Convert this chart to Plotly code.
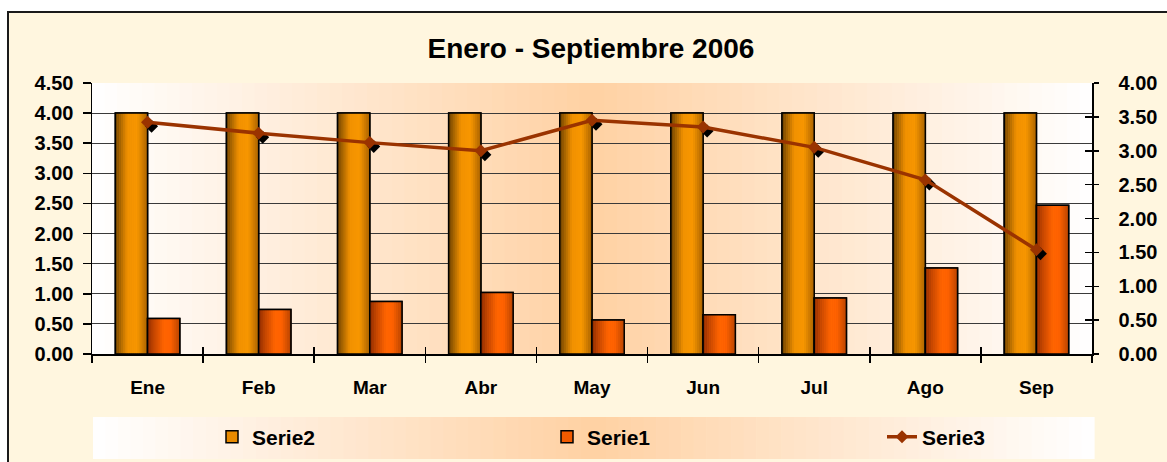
import plotly.graph_objects as go

# ---------------- data ----------------
months = ["Ene", "Feb", "Mar", "Abr", "May", "Jun", "Jul", "Ago", "Sep"]
serie2 = [4.00, 4.00, 4.00, 4.00, 4.00, 4.00, 4.00, 4.00, 4.00]
serie1 = [0.59, 0.74, 0.87, 1.02, 0.565, 0.65, 0.93, 1.43, 2.47]
serie3 = [3.42, 3.26, 3.12, 3.00, 3.45, 3.35, 3.05, 2.57, 1.54]
left_ticks = [0.0, 0.5, 1.0, 1.5, 2.0, 2.5, 3.0, 3.5, 4.0, 4.5]
right_ticks = [0.0, 0.5, 1.0, 1.5, 2.0, 2.5, 3.0, 3.5, 4.0]
title_text = "Enero - Septiembre 2006"

# ---------------- geometry / style ----------------
FONT = "Arial, Liberation Sans, Helvetica, sans-serif"
WIDTH, HEIGHT = 1167, 462
ML, MT = 92, 83
PW, PH = 1004, 275           # plotting region incl. shadow shift
SHX, SHY = 4, 4              # shadow shift in px
MR = WIDTH - ML - PW
MB = HEIGHT - MT - PH
XD = (PW - SHX) / PW
YD0 = SHY / PH


def px(x):
    return (x - ML) / PW


def py(y):
    return (MT + PH - y) / PH


def hex2rgb(h):
    h = h.lstrip("#")
    return tuple(int(h[i:i + 2], 16) for i in (0, 2, 4))


def interp(stops, t):
    for (t0, c0), (t1, c1) in zip(stops[:-1], stops[1:]):
        if t0 <= t <= t1:
            f = 0 if t1 == t0 else (t - t0) / (t1 - t0)
            a, b = hex2rgb(c0), hex2rgb(c1)
            return "rgb(%d,%d,%d)" % tuple(round(a[i] + (b[i] - a[i]) * f) for i in range(3))
    return stops[-1][1]


BAR_W = 0.29
S2_STOPS = [(0, "#6E4200"), (0.12, "#9A5C00"), (0.38, "#F29200"), (0.68, "#F79600"), (1.0, "#A86200")]
S1_STOPS = [(0, "#8E2C00"), (0.18, "#C04400"), (0.5, "#FF6400"), (0.7, "#FF6200"), (1.0, "#B84400")]
BG_STOPS = [(0, "#FFFFFF"), (0.5, "#FFD1A3"), (1.0, "#FFFFFF")]
N_STRIPS = 16

fig = go.Figure()


def gradient_bars(name, values, start, stops, legend_color, legend_id):
    fig.add_trace(go.Bar(
        name=name, x=months, y=values, offset=start, width=BAR_W,
        marker=dict(color=legend_color, line=dict(color="black", width=1.5)),
        xaxis="x", yaxis="y", hoverinfo="skip", showlegend=True, legend=legend_id))
    for k in range(N_STRIPS):
        t = (k + 0.5) / N_STRIPS
        fig.add_trace(go.Bar(
            x=months, y=values, offset=start + k * BAR_W / N_STRIPS,
            width=BAR_W / N_STRIPS * 1.15,
            marker=dict(color=interp(stops, t), line=dict(width=0)),
            xaxis="x", yaxis="y", hoverinfo="skip", showlegend=False))
    fig.add_trace(go.Bar(
        x=months, y=values, offset=start, width=BAR_W,
        marker=dict(color="rgba(0,0,0,0)", line=dict(color="black", width=1.5)),
        xaxis="x", yaxis="y", hoverinfo="skip", showlegend=False))


gradient_bars("Serie2", serie2, -BAR_W, S2_STOPS, "#E88A00", "legend")
gradient_bars("Serie1", serie1, 0.0, S1_STOPS, "#F05A00", "legend2")

# invisible carriers so that the helper axes are drawn
fig.add_trace(go.Scatter(x=months, y=serie3, xaxis="x", yaxis="y2", mode="markers",
                         marker=dict(size=1, opacity=0), hoverinfo="skip", showlegend=False))
fig.add_trace(go.Scatter(x=months, y=serie3, xaxis="x", yaxis="y3", mode="markers",
                         marker=dict(size=1, opacity=0), hoverinfo="skip", showlegend=False))
fig.add_trace(go.Scatter(x=list(range(len(months))), y=serie1, xaxis="x2", yaxis="y",
                         mode="markers", marker=dict(size=1, opacity=0),
                         hoverinfo="skip", showlegend=False))

# shadow of the line markers
fig.add_trace(go.Scatter(
    x=months, y=serie3, mode="markers", xaxis="x3", yaxis="y4",
    marker=dict(symbol="diamond", size=10, color="black"),
    hoverinfo="skip", showlegend=False))

# line series on right axis scale
fig.add_trace(go.Scatter(
    name="Serie3", x=months, y=serie3, mode="lines+markers", xaxis="x4", yaxis="y5",
    line=dict(color="#9A3300", width=3.5),
    marker=dict(symbol="diamond", size=10, color="#9A3300"),
    hoverinfo="skip", showlegend=True, legend="legend3"))

# ---------------- background shapes ----------------
shapes = []
shapes.append(dict(type="rect", xref="paper", yref="paper", layer="below",
                   x0=px(8), y0=py(12), x1=px(WIDTH + 10), y1=py(HEIGHT + 10),
                   fillcolor="#FFF6DF", line=dict(color="#1a1a1a", width=2)))
NB = 80
for i in range(NB):
    t = (i + 0.5) / NB
    shapes.append(dict(type="rect", xref="x domain", yref="y domain", layer="below",
                       x0=i / NB, x1=(i + 1.05) / NB, y0=0, y1=1,
                       fillcolor=interp(BG_STOPS, t), line=dict(width=0)))
LX0, LX1, LY0, LY1 = 93, 1094, 417, 459
for i in range(NB):
    t = (i + 0.5) / NB
    xa = LX0 + (LX1 - LX0) * i / NB
    xb = LX0 + (LX1 - LX0) * (i + 1.05) / NB
    shapes.append(dict(type="rect", xref="paper", yref="paper", layer="below",
                       x0=px(xa), x1=px(xb), y0=py(LY1), y1=py(LY0),
                       fillcolor=interp(BG_STOPS, t), line=dict(width=0)))

tickfont_y = dict(family=FONT, size=20, color="black", weight="bold")
tickfont_x = dict(family=FONT, size=19, color="black", weight="bold")
legfont = dict(family=FONT, size=21, color="black", weight="bold")
cat_range = [-0.5, len(months) - 0.5]
boundaries = [i - 0.5 for i in range(len(months) + 1)]


def leg(xpix):
    return dict(orientation="h", x=px(xpix), xanchor="left", y=py(437), yanchor="middle",
                bgcolor="rgba(0,0,0,0)", font=legfont)


fig.update_layout(
    width=WIDTH, height=HEIGHT, autosize=False,
    margin=dict(l=ML, r=MR, t=MT, b=MB, pad=0, autoexpand=False),
    paper_bgcolor="white", plot_bgcolor="rgba(0,0,0,0)",
    barmode="overlay", hovermode=False,
    shapes=shapes,
    title=dict(text=title_text, xref="container", yref="container",
               x=591 / WIDTH, xanchor="center", y=1 - 48 / HEIGHT, yanchor="middle",
               font=dict(family=FONT, size=28, color="black", weight="bold")),
    legend=leg(212), legend2=leg(547), legend3=leg(882),
    xaxis=dict(domain=[0, XD], anchor="y", type="category", categoryorder="array",
               categoryarray=months, range=cat_range, tickson="boundaries",
               ticks="outside", ticklen=7, tickwidth=1.5, tickcolor="black",
               showline=True, linecolor="black", linewidth=1.5, showgrid=False,
               zeroline=False, tickfont=tickfont_x, ticklabelstandoff=16),
    xaxis2=dict(overlaying="x", anchor="y", side="bottom", range=cat_range,
                tickmode="array", tickvals=boundaries, ticks="inside", ticklen=7,
                tickwidth=1.5, tickcolor="black", showticklabels=False,
                showgrid=False, showline=False, zeroline=False),
    yaxis=dict(domain=[YD0, 1], anchor="x", range=[0, 4.5], tickmode="array",
               tickvals=left_ticks, tickformat=".2f", ticks="outside", ticklen=8,
               tickwidth=1.5, tickcolor="black", showline=True, linecolor="black",
               linewidth=1.5, showgrid=True, gridcolor="#3a3a3a", gridwidth=1,
               zeroline=False, tickfont=tickfont_y, ticklabelstandoff=5),
    yaxis2=dict(overlaying="y", side="right", anchor="x", range=[0, 4], tickmode="array",
                tickvals=right_ticks, tickformat=".2f", ticks="outside", ticklen=5,
                tickwidth=1.5, tickcolor="black", showline=True, linecolor="black",
                linewidth=1.5, showgrid=False, zeroline=False, tickfont=tickfont_y,
                ticklabelstandoff=16),
    yaxis3=dict(overlaying="y", side="right", anchor="x", range=[0, 4], tickmode="array",
                tickvals=right_ticks, ticks="inside", ticklen=7, tickwidth=1.5,
                tickcolor="black", showticklabels=False, showgrid=False,
                showline=False, zeroline=False),
    xaxis3=dict(domain=[SHX / PW, 1], anchor="y4", visible=False, type="category",
                categoryorder="array", categoryarray=months, range=cat_range),
    yaxis4=dict(domain=[0, 1 - SHY / PH], anchor="x3", visible=False, range=[0, 4]),
    xaxis4=dict(domain=[0, XD], anchor="y5", visible=False, type="category",
                categoryorder="array", categoryarray=months, range=cat_range),
    yaxis5=dict(domain=[YD0, 1], anchor="x4", visible=False, range=[0, 4]),
)

fig.write_html("out.html", config={"displayModeBar": False, "staticPlot": True},
               post_script="document.body.style.margin='0px';")
